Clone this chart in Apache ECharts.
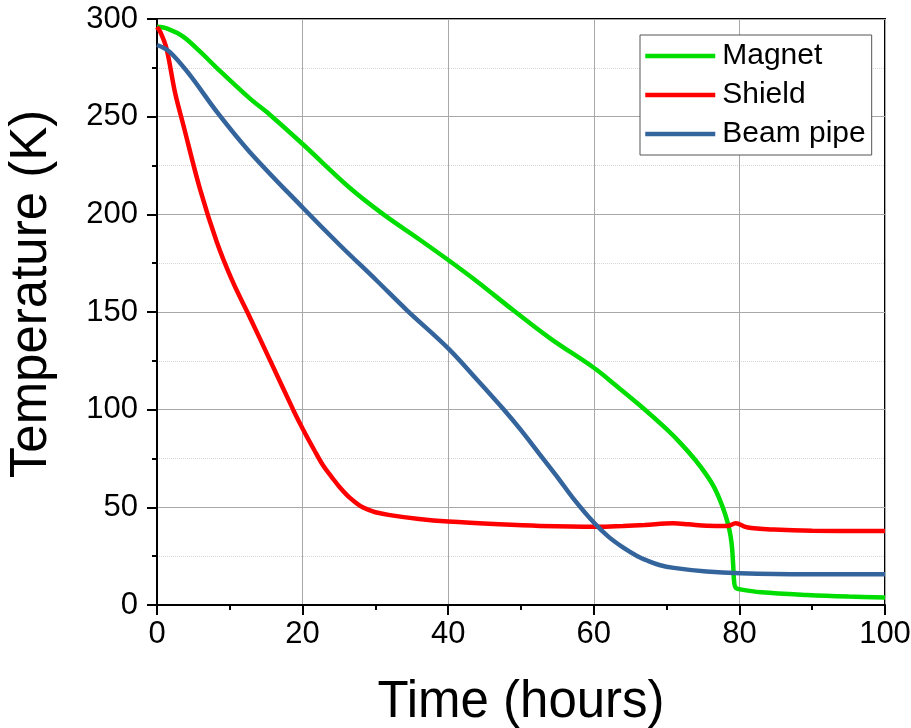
<!DOCTYPE html>
<html>
<head>
<meta charset="utf-8">
<script src="https://cdn.jsdelivr.net/npm/echarts@6/dist/echarts.min.js"></script>
<style>
  html, body { margin: 0; padding: 0; background: #fff; }
  #chart { width: 911px; height: 728px; }
</style>
</head>
<body>
<div id="chart"></div>
<script>
// Cool-down curves: temperature (K) versus time (hours)
const magnetTime = [0, 1.5, 3.6, 6, 8.2, 12.7, 15.5, 20, 26.5, 31.1, 36.1, 40, 44, 48.9, 54, 60.1, 63, 66.4, 70, 72, 74, 75.5, 76.5, 77.3, 78, 78.5, 78.8, 79.0, 79.15, 79.3, 79.5, 80.1, 83, 89.3, 95, 100];
const magnetTemp = [296, 295, 291, 283, 275, 259.5, 251, 236, 213.5, 200, 187, 176.6, 165.5, 151, 136.5, 121.2, 112.5, 102, 90, 82.5, 74, 66.5, 60.5, 54, 47, 40.5, 35, 29, 20, 11, 8.8, 8, 6.5, 5.1, 4.3, 3.9];

const shieldTime = [0, 0.5, 1.3, 2.5, 3.6, 5.9, 8.2, 10.4, 12.6, 15.5, 18.7, 20.1, 21.5, 22.8, 24, 25.1, 26.5, 27.9, 29, 30, 32, 36, 40, 47, 52.6, 60.4, 64, 67, 70.9, 73, 75.5, 78.3, 79.5, 81, 84.7, 90, 100];
const shieldTemp = [296, 293, 285, 262, 246, 213, 186, 165.5, 148.5, 125.5, 100, 89.6, 80, 71.5, 65.5, 60.3, 54.8, 50.8, 48.8, 47.5, 46, 44, 42.7, 41.3, 40.5, 40.1, 40.5, 41, 41.8, 41.3, 40.6, 40.4, 41.8, 39.8, 38.6, 38, 37.9];

const pipeTime = [0, 1.7, 4.5, 8.2, 12.7, 20.1, 25.1, 30.2, 34.3, 40, 44, 47.6, 50, 52.6, 55, 57.2, 60.1, 62, 64, 66, 67.5, 69, 71, 75.5, 80.1, 89.3, 100];
const pipeTemp = [286.7, 283.3, 271.4, 252.6, 232.1, 203.1, 184.3, 166, 151, 131.4, 115.2, 100.2, 89.5, 77, 65.5, 54.5, 41.8, 35, 29.5, 25, 22.5, 20.5, 19, 17.1, 16.2, 15.7, 15.7];

const xTicks = { min: 0, max: 100, step: 20 };
const yTicks = { min: 0, max: 300, step: 50 };

const pairs = (xs, ys) => xs.map((x, i) => [x, ys[i]]);

const FONT = "'Liberation Sans', Arial, sans-serif";

function axisCommon(range) {
  return {
    type: 'value',
    min: range.min,
    max: range.max,
    interval: range.step,
    axisLine: { show: true, lineStyle: { color: '#000', width: 2 } },
    axisTick: { show: true, inside: false, length: 10, lineStyle: { color: '#000', width: 2 } },
    minorTick: { show: true, splitNumber: 2, length: 5, lineStyle: { color: '#000', width: 2 } },
    splitLine: { show: true, lineStyle: { color: '#a8a8a8', width: 1 } },
    axisLabel: { color: '#000', fontSize: 31, fontFamily: FONT },
    nameLocation: 'middle',
    nameTextStyle: { color: '#000', fontSize: 51, fontFamily: FONT }
  };
}

const xAxis = Object.assign(axisCommon(xTicks), {
  name: 'Time (hours)',
  nameGap: 72,
  minorSplitLine: { show: false }
});
xAxis.axisLabel.margin = 14;

const yAxis = Object.assign(axisCommon(yTicks), {
  name: 'Temperature (K)',
  nameGap: 100,
  minorSplitLine: { show: true, lineStyle: { color: '#d6d6d6', width: 1, type: 'dotted' } }
});
yAxis.axisLabel.margin = 19;
yAxis.nameTextStyle.padding = [0, 0, 0, 36];

const lineSeries = (name, data, color) => ({
  name,
  type: 'line',
  data,
  symbol: 'none',
  smooth: 0.35,
  lineStyle: { color, width: 4.5 },
  itemStyle: { color },
  z: 3
});

const chart = echarts.init(document.getElementById('chart'), null, { renderer: 'canvas' });
chart.setOption({
  animation: false,
  backgroundColor: '#fff',
  grid: {
    left: 157, right: 26, top: 19, bottom: 123,
    outerBoundsMode: 'none',
    containLabel: false,
    show: true, borderColor: '#000', borderWidth: 2, backgroundColor: 'transparent'
  },
  legend: {
    orient: 'vertical',
    left: 640,
    top: 35,
    padding: [6, 6, 6, 3],
    itemWidth: 70,
    itemHeight: 28,
    itemGap: 9,
    borderColor: '#555',
    borderWidth: 1,
    backgroundColor: '#fff',
    itemStyle: { opacity: 0 },
    lineStyle: { width: 4.5 },
    textStyle: { color: '#000', fontSize: 30, fontFamily: FONT, padding: [0, 0, 0, 2] },
    data: ['Magnet', 'Shield', 'Beam pipe']
  },
  xAxis,
  yAxis,
  series: [
    lineSeries('Magnet', pairs(magnetTime, magnetTemp), '#00dd00'),
    lineSeries('Shield', pairs(shieldTime, shieldTemp), '#ff0000'),
    lineSeries('Beam pipe', pairs(pipeTime, pipeTemp), '#34649c')
  ]
});
</script>
</body>
</html>
